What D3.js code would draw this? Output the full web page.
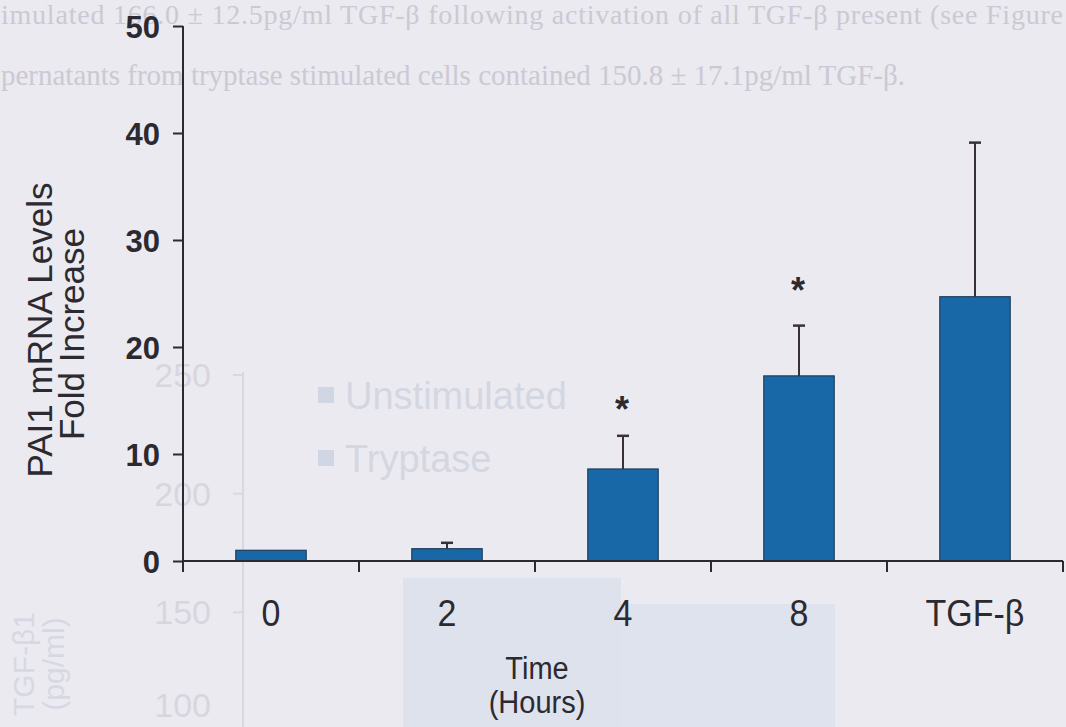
<!DOCTYPE html>
<html>
<head>
<meta charset="utf-8">
<script src="https://cdn.jsdelivr.net/npm/d3@7/dist/d3.min.js"></script>
<style>
  html, body { margin: 0; padding: 0; background: #ebeaf0; }
  svg { display: block; }
</style>
</head>
<body>
<svg id="chart" width="1066" height="727"></svg>
<script>
// PAI1 mRNA fold increase after tryptase stimulation, with TGF-β as positive control
const categories = ["0", "2", "4", "8", "TGF-β"];
const foldIncrease = [1.0, 1.15, 8.6, 17.3, 24.7];
const errorUpper = [0, 0.55, 3.1, 4.7, 14.4];
const significant = [false, false, true, true, false];
const markerLevel = [null, null, 14.8, 25.9, null];
const yTicks = [0, 10, 20, 30, 40, 50];

// faint text and figure showing through from the facing page
const throughText = [
  "imulated 166.0 ± 12.5pg/ml TGF-β following activation of all TGF-β present (see Figure",
  "pernatants from tryptase stimulated cells contained 150.8 ± 17.1pg/ml TGF-β."
];
const throughTicks = ["250", "200", "150", "100"];
const throughLegend = ["Unstimulated", "Tryptase"];

const svg = d3.select("#chart");
const W = 1066, H = 727;
const sans = "Liberation Sans, Arial, sans-serif";

svg.append("rect").attr("width", W).attr("height", H).attr("fill", "#ebeaf0");

// ---- show-through layer ----
const ghost = svg.append("g").attr("class", "through");
ghost.append("rect").attr("x", 403).attr("y", 578).attr("width", 218).attr("height", 149).attr("fill", "#dde2ed");
ghost.append("rect").attr("x", 621).attr("y", 604).attr("width", 214).attr("height", 123).attr("fill", "#dfe3ed");
ghost.append("text")
  .attr("x", 1).attr("y", 24)
  .attr("textLength", 1062).attr("lengthAdjust", "spacing")
  .attr("font-family", "Liberation Serif, serif")
  .attr("font-size", 28)
  .attr("fill", "#cac9d4")
  .text(throughText[0]);
ghost.append("text")
  .attr("x", 1).attr("y", 85)
  .attr("textLength", 904).attr("lengthAdjust", "spacing")
  .attr("font-family", "Liberation Serif, serif")
  .attr("font-size", 29)
  .attr("fill", "#cac9d4")
  .text(throughText[1]);
const gScale = d3.scaleLinear().domain([100, 250]).range([731, 375]);
ghost.append("line").attr("x1", 243).attr("x2", 243).attr("y1", 372).attr("y2", 727)
  .attr("stroke", "#d6d9e3").attr("stroke-width", 2);
ghost.selectAll("text.gt").data(throughTicks).join("text")
  .attr("class", "gt")
  .attr("x", 211).attr("y", d => Math.min(gScale(+d) + 12, 717))
  .attr("text-anchor", "end")
  .attr("font-family", sans)
  .attr("font-size", 34)
  .attr("fill", "#d7d6e0")
  .text(d => d);
ghost.selectAll("line.gk").data(throughTicks).join("line")
  .attr("class", "gk")
  .attr("x1", 233).attr("x2", 243)
  .attr("y1", d => gScale(+d)).attr("y2", d => gScale(+d))
  .attr("stroke", "#d6d9e3").attr("stroke-width", 2);
ghost.append("text")
  .attr("transform", "translate(34,664) rotate(-90)")
  .attr("text-anchor", "middle")
  .attr("font-family", sans)
  .attr("font-size", 30)
  .attr("fill", "#d6d9e4")
  .text("TGF-β1");
ghost.append("text")
  .attr("transform", "translate(64,664) rotate(-90)")
  .attr("text-anchor", "middle")
  .attr("font-family", sans)
  .attr("font-size", 30)
  .attr("fill", "#d6d9e4")
  .text("(pg/ml)");
const legend = ghost.selectAll("g.lg").data(throughLegend).join("g")
  .attr("class", "lg")
  .attr("transform", (d, i) => `translate(318,${396 + i * 63})`);
legend.append("rect").attr("x", 0).attr("y", -9).attr("width", 16).attr("height", 16).attr("fill", "#d0d6e3");
legend.append("text").attr("x", 27).attr("y", 13)
  .attr("font-family", sans)
  .attr("font-size", 38)
  .attr("fill", "#d4d7e2")
  .text(d => d);

// ---- main chart ----
const x0 = 183, x1 = 1063;
const y = d3.scaleLinear().domain([0, 50]).range([561, 26]);
const x = d3.scaleBand().domain(categories).range([x0, x1]).paddingInner(0.6).paddingOuter(0.3);
const step = x.step();
const cx = d => x(d) + x.bandwidth() / 2;

const ink = "#2c2a30";

// bars
svg.append("g").selectAll("rect").data(categories).join("rect")
  .attr("x", d => x(d))
  .attr("y", (d, i) => y(foldIncrease[i]))
  .attr("width", x.bandwidth())
  .attr("height", (d, i) => y(0) - y(foldIncrease[i]))
  .attr("fill", "#1868a7")
  .attr("stroke", "#1f3d5e")
  .attr("stroke-width", 1.2);

// upper error bars
const err = svg.append("g");
categories.forEach((c, i) => {
  if (!errorUpper[i]) return;
  const top = y(foldIncrease[i] + errorUpper[i]);
  err.append("line").attr("x1", cx(c)).attr("x2", cx(c))
    .attr("y1", y(foldIncrease[i])).attr("y2", top)
    .attr("stroke", "#3a3038").attr("stroke-width", 2);
  err.append("line").attr("x1", cx(c) - 6).attr("x2", cx(c) + 6)
    .attr("y1", top).attr("y2", top)
    .attr("stroke", "#3a3038").attr("stroke-width", 2.5);
});

// significance markers
svg.append("g").selectAll("text").data(categories.filter((c, i) => significant[i])).join("text")
  .attr("x", d => cx(d) - 1)
  .attr("y", d => y(markerLevel[categories.indexOf(d)]) + 19)
  .attr("text-anchor", "middle")
  .attr("font-family", sans)
  .attr("font-weight", "bold")
  .attr("font-size", 36)
  .attr("fill", ink)
  .text("*");

// y axis
const yAxis = svg.append("g")
  .attr("transform", `translate(${x0},0)`)
  .call(d3.axisLeft(y).tickValues(yTicks).tickSize(10).tickPadding(13).tickSizeOuter(0));
yAxis.select(".domain").remove();
yAxis.selectAll(".tick line").attr("stroke", ink).attr("stroke-width", 2);
yAxis.selectAll(".tick text")
  .attr("font-family", sans)
  .attr("font-weight", "bold")
  .attr("font-size", 31)
  .attr("dy", "0.36em")
  .attr("fill", ink);
svg.append("line").attr("x1", x0).attr("x2", x0).attr("y1", y(50)).attr("y2", y(0) + 11)
  .attr("stroke", ink).attr("stroke-width", 2);

// x axis
const xAxis = svg.append("g")
  .attr("transform", `translate(0,${y(0)})`)
  .call(d3.axisBottom(x).tickSize(0).tickFormat(""));
xAxis.select(".domain").remove();
svg.append("g").selectAll("text").data(categories).join("text")
  .attr("transform", d => `translate(${cx(d)},626) scale(1,1.06)`)
  .attr("text-anchor", "middle")
  .attr("font-family", sans)
  .attr("font-size", 34)
  .attr("fill", ink)
  .text(d => d);
svg.append("line").attr("x1", x0).attr("x2", x1).attr("y1", y(0)).attr("y2", y(0))
  .attr("stroke", ink).attr("stroke-width", 2);
svg.append("g").selectAll("line").data(categories).join("line")
  .attr("x1", (d, i) => x0 + (i + 1) * step)
  .attr("x2", (d, i) => x0 + (i + 1) * step)
  .attr("y1", y(0)).attr("y2", y(0) + 11)
  .attr("stroke", ink).attr("stroke-width", 2);

// axis titles
svg.append("text").attr("transform", "translate(537,679) scale(1,1.05)")
  .attr("text-anchor", "middle")
  .attr("font-family", sans)
  .attr("font-size", 29).attr("fill", ink).text("Time");
svg.append("text").attr("transform", "translate(537,713) scale(1,1.05)")
  .attr("text-anchor", "middle")
  .attr("font-family", sans)
  .attr("font-size", 29).attr("fill", ink).text("(Hours)");
svg.append("text")
  .attr("transform", "translate(52,330) rotate(-90)")
  .attr("text-anchor", "middle")
  .attr("font-family", sans)
  .attr("font-size", 35).attr("fill", ink).text("PAI1 mRNA Levels");
svg.append("text")
  .attr("transform", "translate(84,334) rotate(-90)")
  .attr("text-anchor", "middle")
  .attr("font-family", sans)
  .attr("font-size", 35).attr("fill", ink).text("Fold Increase");
</script>
</body>
</html>
